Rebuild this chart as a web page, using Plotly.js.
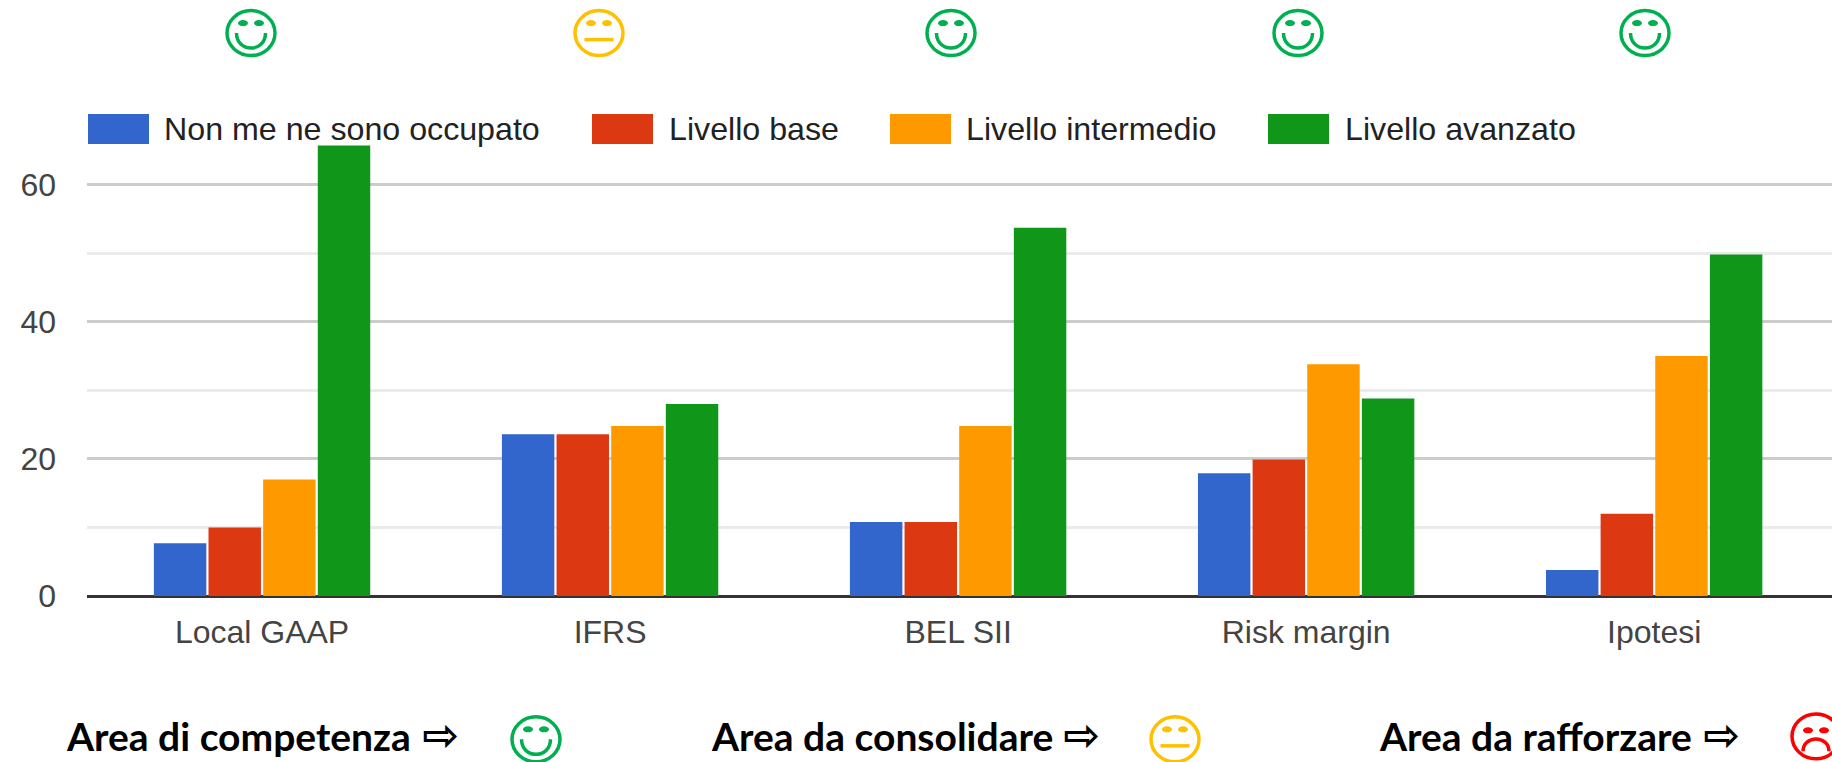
<!DOCTYPE html>
<html><head><meta charset="utf-8">
<script src="https://cdn.plot.ly/plotly-3.0.1.min.js"></script>
<style>html,body{margin:0;padding:0;background:#fff;overflow:hidden}#chart{width:1832px;height:762px}</style>
</head><body><div id="chart"></div>
<script>
const categories = ["Local GAAP","IFRS","BEL SII","Risk margin","Ipotesi"];
const seriesNames = ["Non me ne sono occupato","Livello base","Livello intermedio","Livello avanzato"];
const seriesColors = ["#3366cc","#dc3912","#ff9900","#109618"];
const nonOccupato = [7.7,23.6,10.8,17.9,3.8];
const livelloBase = [10,23.6,10.8,19.9,12];
const livelloIntermedio = [17,24.8,24.8,33.8,35];
const livelloAvanzato = [65.7,28,53.7,28.8,49.8];
const seriesValues = [nonOccupato,livelloBase,livelloIntermedio,livelloAvanzato];
const areaMoods = ["happy","neutral","happy","happy","happy"];
const moodColors = {happy:"#00b050",neutral:"#ffc000",sad:"#ff0000"};

const W=1832,H=762,L=87,R=1832,T=116,B=596.5;
const px=x=>(x-L)/(R-L), py=y=>(B-y)/(B-T);
const shapes=[], annotations=[];
function P(x,y){return px(x).toFixed(5)+","+py(y).toFixed(5);}
function face(cx,cy,mood,eyeDy){
  const c=moodColors[mood], rx=24, ry=22.5, ey=eyeDy||-10;
  const base={xref:"paper",yref:"paper"};
  shapes.push({...base,type:"circle",x0:px(cx-rx),x1:px(cx+rx),y0:py(cy+ry),y1:py(cy-ry),line:{color:c,width:3.5},fillcolor:"rgba(0,0,0,0)"});
  [-8,8].forEach(d=>shapes.push({...base,type:"circle",x0:px(cx+d-5),x1:px(cx+d+5),y0:py(cy+ey+3),y1:py(cy+ey-3),line:{width:0},fillcolor:c}));
  let path;
  if(mood==="happy") path=`M ${P(cx-14.5,cy+0)} C ${P(cx-14.5,cy+20)} ${P(cx+14.5,cy+20)} ${P(cx+14.5,cy+0)}`;
  else if(mood==="neutral") path=`M ${P(cx-14.5,cy+6.5)} L ${P(cx+14.5,cy+6.5)}`;
  else path=`M ${P(cx-13,cy+15)} C ${P(cx-13,cy-1.5)} ${P(cx+13,cy-1.5)} ${P(cx+13,cy+15)}`;
  shapes.push({...base,type:"path",path:path,line:{color:c,width:3.5}});
}
function text(x,y,t,size,color,family,bold){
  annotations.push({xref:"paper",yref:"paper",x:px(x),y:py(y),xanchor:"left",yanchor:"middle",showarrow:false,text:t,
    font:{size:size,color:color,family:family,weight:bold?700:400},borderpad:0});
}
const topCenters=[251,599,951,1298,1645];
areaMoods.forEach((m,i)=>face(topCenters[i],33,m));
face(536,740,"happy");face(1175,740,"neutral");face(1816,737,"sad",-6);

// legend
const legX=[88,592,890,1268], legT=[163,668,965,1344];
seriesNames.forEach((n,i)=>{
  shapes.push({xref:"paper",yref:"paper",type:"rect",x0:px(legX[i]),x1:px(legX[i]+61),y0:py(144),y1:py(114),fillcolor:seriesColors[i],line:{width:0}});
  text(legT[i],129,n,32.2,"#222222","Liberation Sans, Arial, sans-serif");
});
// footer
const footer=[["Area di competenza",65,421],["Area da consolidare",710,1062],["Area da rafforzare",1378,1702]];
footer.forEach(f=>{
  text(f[1],737,f[0],39,"#000000","Lato, sans-serif",true);
  text(f[2],735,"⇨",44,"#000000","DejaVu Sans, sans-serif",true);
});

const traces=seriesNames.map((n,i)=>({type:"bar",name:n,x:categories,y:seriesValues[i],marker:{color:seriesColors[i],line:{width:0}},hoverinfo:"x+y+name"}));
const layout={width:W,height:H,showlegend:false,paper_bgcolor:"#fff",plot_bgcolor:"#fff",
  margin:{l:L,r:W-R,t:T,b:H-B,autoexpand:false},
  barmode:"group",bargap:0.372,bargroupgap:0.04,
  font:{family:"Liberation Sans, Arial, sans-serif",color:"#444444",size:32},
  xaxis:{range:[-0.503,4.511],tickfont:{size:32,color:"#444444"},ticks:"",showgrid:false,zeroline:false,showline:false,automargin:false,ticklabelstandoff:14},
  yaxis:{range:[0,70],tickvals:[0,20,40,60],ticktext:["0","20","40","60"],tickfont:{size:32,color:"#444444"},ticks:"",
    showgrid:true,gridcolor:"#cccccc",gridwidth:2.5,zeroline:true,zerolinecolor:"#333333",zerolinewidth:3,automargin:false,ticklabelstandoff:30,
    minor:{tickvals:[10,30,50,70],showgrid:true,gridcolor:"#ebebeb",gridwidth:2.5,ticks:""}},
  shapes:shapes,annotations:annotations};
Plotly.newPlot("chart",traces,layout,{displayModeBar:false,responsive:false});
</script></body></html>
